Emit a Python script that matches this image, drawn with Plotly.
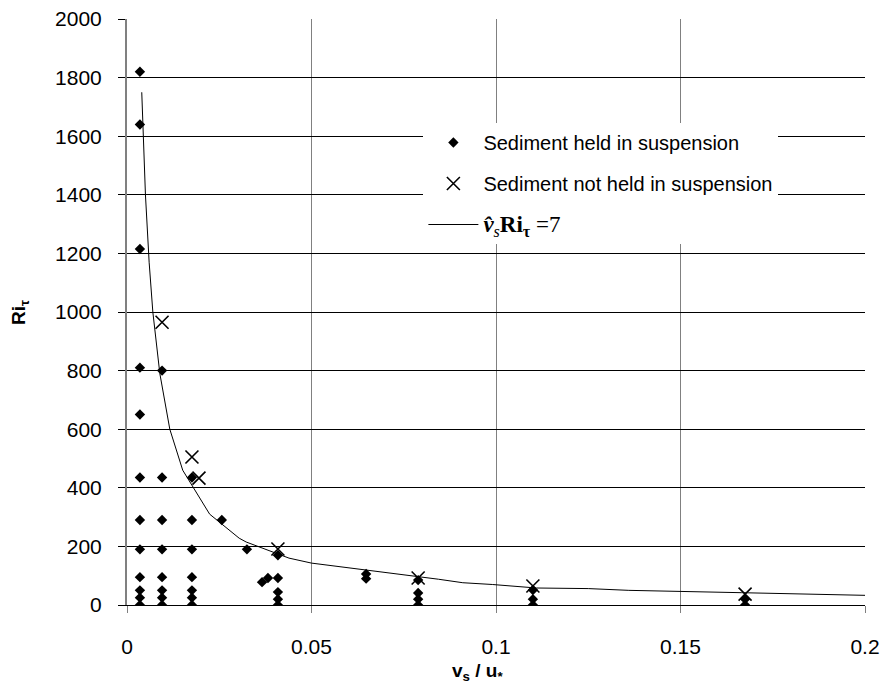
import plotly.graph_objects as go

# Sediment held in suspension (diamonds)
held_x = [0.0035]*12 + [0.0095]*8 + [0.0176]*7 + [0.0257, 0.0325, 0.0366, 0.0382] + [0.0409]*5 \
         + [0.0648]*2 + [0.0789]*4 + [0.110]*3 + [0.1675]*2
held_y = [1820, 1640, 1215, 810, 650, 435, 290, 190, 95, 50, 25, 0,
          800, 435, 290, 190, 95, 50, 25, 0,
          435, 290, 190, 95, 50, 25, 0,
          290, 190, 78, 92,
          170, 92, 44, 20, 0,
          106, 90,
          85, 41, 20, 0,
          51, 20, 0,
          20, 0]

# Sediment not held in suspension (crosses)
not_x = [0.0095, 0.0176, 0.0195, 0.0409, 0.0789, 0.110, 0.1675]
not_y = [965, 505, 433, 191, 92, 65, 37]

# Curve v_s * Ri = 7
curve_x = [0.004, 0.005, 0.006, 0.007, 0.0089, 0.0116, 0.0151, 0.0224, 0.0304, 0.0323,
           0.0439, 0.05, 0.0844, 0.091, 0.099, 0.111, 0.125, 0.136, 0.1666, 0.2]
curve_y = [1750, 1400, 1170, 1000, 790, 600, 460, 310, 228, 215,
           160, 143, 88, 76, 70, 58, 56, 50, 42, 33]

x_ticks = [0, 0.05, 0.1, 0.15, 0.2]
x_labels = ["0", "0.05", "0.1", "0.15", "0.2"]
y_ticks = list(range(0, 2001, 200))

fig = go.Figure()
fig.add_trace(go.Scatter(x=held_x, y=held_y, mode="markers", name="Sediment held in suspension",
                         legendgroup="a",
                         marker=dict(symbol="diamond", size=8, color="black")))
fig.add_trace(go.Scatter(x=not_x, y=not_y, mode="markers", name="Sediment not held in suspension",
                         legendgroup="b",
                         marker=dict(symbol="x-thin-open", size=13, color="black",
                                     line=dict(width=1.6, color="black"))))
fig.add_trace(go.Scatter(x=curve_x, y=curve_y, mode="lines", legendgroup="c",
                         name="<span style='font-family:Liberation Serif;font-size:23px'><b><i>v&#770;</i></b><i><sub>s</sub></i><b>Ri<sub>τ</sub></b> =7</span>",
                         line=dict(color="black", width=1)))

fig.update_layout(
    width=888, height=687,
    margin=dict(l=127, r=23, t=19, b=82),
    paper_bgcolor="white", plot_bgcolor="white",
    font=dict(family="Liberation Sans, Arial", size=21, color="black"),
    showlegend=True,
    legend=dict(x=0.4016, y=0.8225, xanchor="left", yanchor="top", bgcolor="white",
                font=dict(size=20), itemwidth=50, tracegroupgap=12, borderwidth=0),
    annotations=[
        dict(text="<b>Ri<sub>τ</sub></b>", xref="paper", yref="paper", x=-0.145, y=0.5,
             xanchor="center", yanchor="middle", textangle=-90, showarrow=False,
             font=dict(size=19)),
        dict(text="<b>v<sub>s</sub> / u<sub>*</sub></b>", xref="paper", yref="paper", x=0.475, y=0,
             xanchor="center", yanchor="middle", yshift=-67, showarrow=False,
             font=dict(size=19)),
    ],
)
fig.update_xaxes(range=[0, 0.2], tickvals=x_ticks, ticktext=x_labels,
                 showgrid=True, gridcolor="#808080", gridwidth=1,
                 showline=True, linecolor="black", linewidth=1,
                 ticks="outside", ticklen=7, tickcolor="#808080",
                 zeroline=False, automargin=False, ticklabelstandoff=16)
fig.update_yaxes(range=[0, 2000], tickvals=y_ticks,
                 showgrid=True, gridcolor="black", gridwidth=1,
                 showline=True, linecolor="#808080", linewidth=2,
                 ticks="outside", ticklen=7, tickcolor="black",
                 zeroline=False, automargin=False, ticklabelstandoff=12)

fig.write_html("out.html")
